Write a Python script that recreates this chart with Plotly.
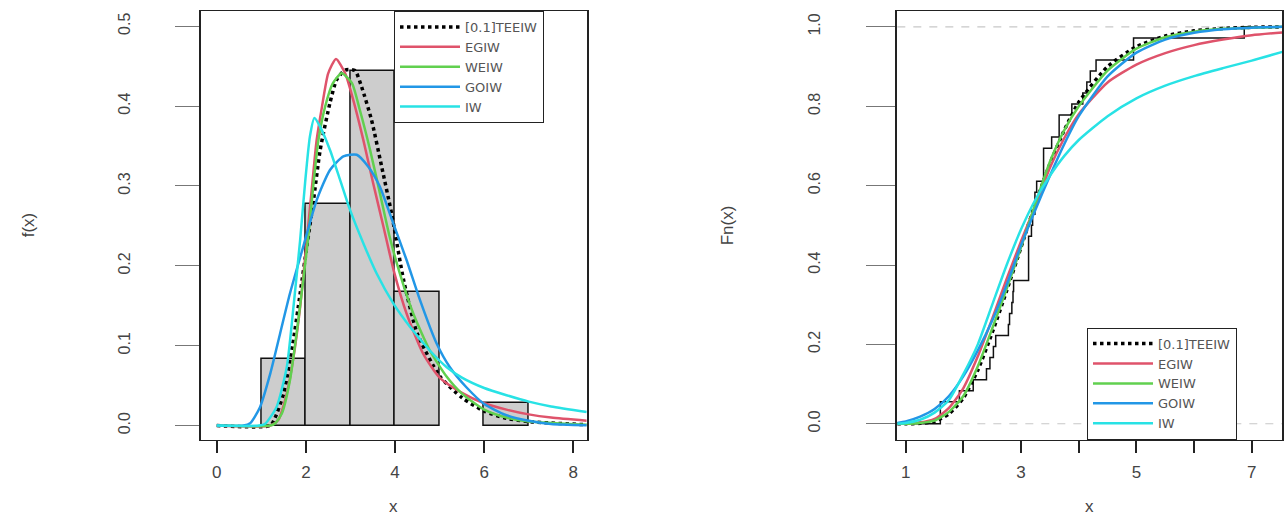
import numpy as np
import plotly.graph_objects as go

# ---------------- data ----------------
# sample (read from the empirical CDF steps; also gives the histogram)
sample = [1.60, 1.60, 1.93, 2.17, 2.40, 2.46, 2.52, 2.56, 2.78, 2.80, 2.84, 2.86, 2.87,
          3.13, 3.13, 3.13, 3.13, 3.18, 3.20, 3.24, 3.24, 3.27, 3.39, 3.39, 3.39, 3.53,
          3.66, 3.66, 3.88, 4.07, 4.14, 4.20, 4.30, 4.95, 4.95, 6.87]

models = ["[0.1]TEEIW", "EGIW", "WEIW", "GOIW", "IW"]
colors = ["#000000", "#DF536B", "#61D04F", "#2297E6", "#28E2E5"]

# fitted densities (left panel)
pdf_teeiw_x = [0, 1.2, 1.31, 1.5, 1.7, 1.87, 2.02, 2.17, 2.32, 2.54, 2.69, 2.88, 3.10, 3.25,
               3.47, 3.70, 3.92, 4.2, 4.5, 5.0, 5.5, 6.0, 6.5, 7.0, 8.3]
pdf_teeiw_y = [0, 0, 0.01, 0.04, 0.10, 0.165, 0.224, 0.282, 0.345, 0.404, 0.433, 0.445, 0.4445,
               0.424, 0.383, 0.324, 0.266, 0.18, 0.115, 0.062, 0.035, 0.018, 0.009, 0.005, 0.001]
pdf_egiw_x = [0, 1.2, 1.38, 1.57, 1.72, 1.87, 2.02, 2.13, 2.24, 2.36, 2.50, 2.675, 2.88, 3.06,
              3.29, 3.51, 3.74, 3.97, 4.26, 4.63, 5.0, 5.5, 6.0, 6.5, 7.0, 7.5, 8.3]
pdf_egiw_y = [0, 0, 0.007, 0.04, 0.085, 0.148, 0.232, 0.295, 0.357, 0.399, 0.441, 0.459, 0.441,
              0.408, 0.357, 0.303, 0.249, 0.194, 0.14, 0.09, 0.06, 0.041, 0.028, 0.02, 0.014,
              0.01, 0.006]
pdf_weiw_x = [0, 1.2, 1.31, 1.46, 1.64, 1.79, 1.94, 2.06, 2.17, 2.28, 2.43, 2.6, 2.80, 3.03,
              3.21, 3.44, 3.66, 3.88, 4.11, 4.41, 4.78, 5.16, 5.5, 6.0, 6.5, 7.0, 8.3]
pdf_weiw_y = [0, 0, 0.003, 0.015, 0.056, 0.115, 0.182, 0.24, 0.303, 0.357, 0.399, 0.428, 0.441,
              0.429, 0.395, 0.345, 0.291, 0.236, 0.19, 0.14, 0.094, 0.061, 0.04, 0.02, 0.01,
              0.005, 0.001]
pdf_goiw_x = [0, 0.6, 0.75, 0.97, 1.2, 1.42, 1.64, 1.94, 2.24, 2.54, 2.84, 3.14, 3.40, 3.66,
              3.96, 4.26, 4.56, 4.93, 5.23, 5.6, 6.0, 6.5, 7.0, 7.5, 8.3]
pdf_goiw_y = [0, 0, 0.003, 0.023, 0.065, 0.115, 0.165, 0.224, 0.282, 0.32, 0.337, 0.339, 0.324,
              0.299, 0.253, 0.207, 0.157, 0.103, 0.073, 0.048, 0.027, 0.013, 0.006, 0.002, 0.0005]
pdf_iw_x = [0, 0.95, 1.08, 1.34, 1.57, 1.72, 1.87, 1.98, 2.09, 2.19, 2.32, 2.54, 2.77, 2.99,
            3.29, 3.59, 3.96, 4.33, 4.78, 5.16, 5.5, 6.0, 6.5, 7.0, 7.5, 8.3]
pdf_iw_y = [0, 0, 0.002, 0.023, 0.073, 0.148, 0.232, 0.303, 0.362, 0.385, 0.374, 0.345, 0.307,
            0.27, 0.228, 0.19, 0.153, 0.124, 0.094, 0.073, 0.06, 0.047, 0.038, 0.03, 0.024, 0.017]

# fitted CDFs (right panel)
cdf_x = [0.85, 1.0, 1.25, 1.5, 1.75, 2.0, 2.25, 2.5, 2.75, 3.0, 3.25, 3.5, 3.75, 4.0, 4.5,
         5.0, 5.5, 6.0, 6.5, 7.0, 7.53]
cdf_teeiw = [0, 0, 0.001, 0.006, 0.025, 0.065, 0.135, 0.23, 0.335, 0.445, 0.555, 0.655, 0.74,
             0.81, 0.9, 0.95, 0.977, 0.99, 0.996, 0.999, 1.0]
cdf_egiw = [0, 0.0005, 0.003, 0.012, 0.04, 0.09, 0.17, 0.265, 0.365, 0.46, 0.55, 0.645, 0.72,
            0.78, 0.86, 0.905, 0.934, 0.954, 0.968, 0.979, 0.986]
cdf_weiw = [0, 0, 0.002, 0.008, 0.03, 0.07, 0.145, 0.24, 0.34, 0.445, 0.555, 0.66, 0.74, 0.80,
            0.89, 0.945, 0.974, 0.988, 0.995, 0.998, 1.0]
cdf_goiw = [0.002, 0.006, 0.018, 0.037, 0.07, 0.12, 0.185, 0.26, 0.35, 0.45, 0.54, 0.625, 0.705,
            0.775, 0.875, 0.935, 0.968, 0.985, 0.994, 0.998, 1.0]
cdf_iw = [0, 0.002, 0.01, 0.028, 0.06, 0.125, 0.2, 0.3, 0.4, 0.49, 0.565, 0.625, 0.675, 0.715,
          0.775, 0.82, 0.852, 0.876, 0.896, 0.915, 0.937]

x1_ticks = [0, 2, 4, 6, 8]
y1_ticks = [0.0, 0.1, 0.2, 0.3, 0.4, 0.5]
x2_ticks = [1, 2, 3, 4, 5, 6, 7]
x2_labels = ["1", "", "3", "", "5", "", "7"]
y2_ticks = [0.0, 0.2, 0.4, 0.6, 0.8, 1.0]

x1_range = [-0.36, 8.3]
y1_range = [-0.0176, 0.519]
x2_range = [0.854, 7.525]
y2_range = [-0.04, 1.04]

# ---------------- figure ----------------
FONT = "Liberation Sans, Arial, sans-serif"
fig = go.Figure()

fig.add_trace(go.Histogram(
    x=sample, histnorm="probability density",
    xbins=dict(start=1, end=7, size=1), autobinx=False,
    marker=dict(color="#cdcdcd", line=dict(color="#111111", width=1.5)),
    showlegend=False, hoverinfo="skip", xaxis="x", yaxis="y"))

pdf_x = [pdf_teeiw_x, pdf_egiw_x, pdf_weiw_x, pdf_goiw_x, pdf_iw_x]
pdf_y = [pdf_teeiw_y, pdf_egiw_y, pdf_weiw_y, pdf_goiw_y, pdf_iw_y]
cdf_y = [cdf_teeiw, cdf_egiw, cdf_weiw, cdf_goiw, cdf_iw]

for i, name in enumerate(models):
    dash = "dot" if i == 0 else "solid"
    width = 3.5 if i == 0 else 2.5
    fig.add_trace(go.Scatter(
        x=pdf_x[i], y=pdf_y[i], mode="lines", name=name,
        line=dict(color=colors[i], width=width, dash=dash, shape="spline", smoothing=0.6),
        xaxis="x", yaxis="y", legend="legend"))

# empirical CDF step function
xs = np.sort(np.array(sample))
n = len(xs)
ecdf_x = [x2_range[0]] + list(xs) + [x2_range[1]]
ecdf_y = [0.0] + list(np.arange(1, n + 1) / n) + [1.0]
fig.add_trace(go.Scatter(
    x=ecdf_x, y=ecdf_y, mode="lines", line=dict(color="#111111", width=1.5, shape="hv"),
    showlegend=False, hoverinfo="skip", xaxis="x2", yaxis="y2"))

for i, name in enumerate(models):
    dash = "dot" if i == 0 else "solid"
    width = 3.5 if i == 0 else 2.5
    fig.add_trace(go.Scatter(
        x=cdf_x, y=cdf_y[i], mode="lines", name=name,
        line=dict(color=colors[i], width=width, dash=dash, shape="spline", smoothing=0.6),
        xaxis="x2", yaxis="y2", legend="legend2"))

# dashed reference lines at 0 and 1 (plot.ecdf style)
for yv in (0, 1):
    fig.add_shape(type="line", xref="x2 domain", yref="y2", x0=0, x1=1, y0=yv, y1=yv,
                  line=dict(color="#c8c8c8", width=1.2, dash="8px,8px"), layer="below")

common_x = dict(ticks="outside", ticklen=12, tickwidth=2, tickcolor="#222222",
                showline=True, linecolor="#222222", linewidth=1, mirror=True,
                showgrid=False, zeroline=False,
                tickfont=dict(family=FONT, size=17, color="#444444"))
common_y = dict(ticks="outside", tickwidth=1, tickcolor="#777777", tickangle=-90,
                showline=True, linecolor="#222222", linewidth=2, mirror=True,
                showgrid=False, zeroline=False,
                tickfont=dict(family=FONT, size=16, color="#444444"))

legend_font = dict(family="DejaVu Sans", size=13, color="#555555")
ydom = [0.148, 0.9787]
fig.update_layout(
    width=1285, height=516, margin=dict(l=0, r=0, t=0, b=0),
    paper_bgcolor="white", plot_bgcolor="white", bargap=0,
    xaxis=dict(domain=[0.1562, 0.4566], range=x1_range, tickvals=x1_ticks,
               anchor="y", ticklabelstandoff=5, **common_x),
    yaxis=dict(domain=ydom, range=y1_range, tickvals=y1_ticks,
               ticktext=[f"{v:.1f}" for v in y1_ticks], anchor="x",
               ticklen=24, ticklabelstandoff=38, **common_y),
    xaxis2=dict(domain=[0.6983, 0.9977], range=x2_range, tickvals=x2_ticks,
                ticktext=x2_labels, anchor="y2", ticklabelstandoff=5, **common_x),
    yaxis2=dict(domain=ydom, range=y2_range, tickvals=y2_ticks,
                ticktext=[f"{v:.1f}" for v in y2_ticks], anchor="x2",
                ticklen=29, ticklabelstandoff=40, **common_y),
    legend=dict(x=394 / 1285, y=ydom[1], xanchor="left", yanchor="top",
                bgcolor="white", bordercolor="#222222", borderwidth=1,
                font=legend_font, itemwidth=60, tracegroupgap=0,
                entrywidth=120, entrywidthmode="pixels"),
    legend2=dict(x=1087 / 1285, y=ydom[0], xanchor="left", yanchor="bottom",
                 bgcolor="white", bordercolor="#222222", borderwidth=1,
                 font=legend_font, itemwidth=60, tracegroupgap=0,
                 entrywidth=120, entrywidthmode="pixels"),
    showlegend=True,
)

# axis titles
title_font = dict(family=FONT, size=17, color="#444444")
fig.add_annotation(text="x", xref="x domain", yref="paper", x=0.5, y=(516 - 506) / 516,
                   showarrow=False, font=title_font, yanchor="middle")
fig.add_annotation(text="x", xref="x2 domain", yref="paper", x=0.5, y=(516 - 506) / 516,
                   showarrow=False, font=title_font, yanchor="middle")
fig.add_annotation(text="f(x)", xref="paper", yref="y domain", x=28 / 1285, y=0.5,
                   textangle=-90, showarrow=False, font=title_font, xanchor="center")
fig.add_annotation(text="Fn(x)", xref="paper", yref="y2 domain", x=727 / 1285, y=0.5,
                   textangle=-90, showarrow=False, font=title_font, xanchor="center")

fig.write_html("out.html", config={"displayModeBar": False},
               post_script="document.body.style.margin='0px';")
